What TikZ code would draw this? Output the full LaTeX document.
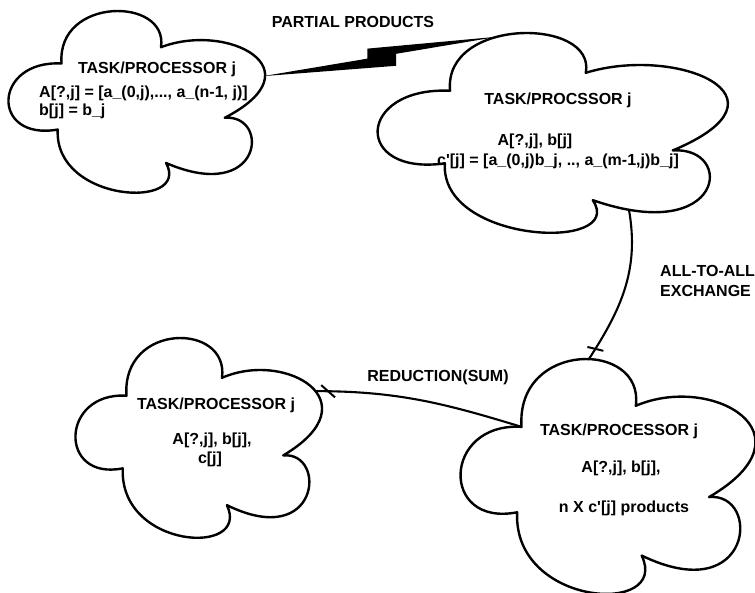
\documentclass[tikz,border=0pt]{standalone}
\usepackage{fontspec}
\setmainfont{Liberation Sans}
\usetikzlibrary{decorations.markings,calc}
\begin{document}
\begin{tikzpicture}[x=1pt,y=1pt,
  cloudline/.style={draw=black, fill=white, line width=2.4pt, line join=round},
  txt/.style={font=\fontsize{16}{19}\selectfont\bfseries, inner sep=0pt},
  link/.style={line width=2.1pt},
  tickdown/.style={postaction={decorate, decoration={markings,
    mark=at position -12pt with {\draw[line width=2pt] (2.6,-7.8) -- (-2.6,7.8);}}}},
  tickleft/.style={postaction={decorate, decoration={markings,
    mark=at position -13pt with {\draw[line width=2pt] (7,-6) -- (-7,6);}}}},
  % five-lobed cloud in a unit box (v grows downwards via a negative yscale)
  cloudy/.pic={
    \path[cloudline] (0.21,0.29)
      .. controls (0.19,-0.08) and (0.63,-0.08) .. (0.60,0.20)
      .. controls (0.86,0.06) and (1.22,0.32) .. (0.85,0.59)
      .. controls (1.03,0.57) and (1.0,1.07) .. (0.62,0.84)
      .. controls (0.72,1.10) and (0.18,1.06) .. (0.195,0.655)
      .. controls (-0.07,0.72) and (-0.06,0.27) .. (0.21,0.29) -- cycle;
    \coordinate (-notch) at (0.21,0.29);
    \coordinate (-north) at (0.35,0.018);
    \coordinate (-top) at (0.44,0.0);
    \coordinate (-east) at (1.0,0.36);
    \coordinate (-ne) at (0.98,0.267);
    \coordinate (-south) at (0.724,0.888);
  },
  ]
\useasboundingbox (0,0) rectangle (755,-593);

% the four task clouds
\pic[xscale=255, yscale=-181] (c1) at (8,-11) {cloudy};
\pic[xscale=348, yscale=-199] (c2) at (377,-33) {cloudy};
\pic[xscale=245, yscale=-199] (c3) at (75,-338) {cloudy};
\pic[xscale=293, yscale=-234] (c4) at (460,-359) {cloudy};

% lightning bolt carrying the partial products
\fill (c1-east) -- ($(c1-east)!0.443!(c2-north)$) -- ($(c1-east)!0.443!(c2-north)+(0,10)$)
  -- (c2-north) -- ($(c1-east)!0.565!(c2-north)$) -- ($(c1-east)!0.565!(c2-north)+(0,-12)$) -- cycle;

% exchange and reduction links
\draw[link, tickdown] (c2-south) to[out=-80, in=57] (c4-top);
\draw[link, tickleft] (c4-notch) to[out=163, in=0] (c3-ne);

% cloud texts
\node[txt] (t1) at (157,-69) {TASK/PROCESSOR j};
\node[txt, anchor=west] (t1a) at (39,-93) {A[?,j] = [a\_(0,j),..., a\_(n-1, j)]};
\node[txt, anchor=west] (t1b) at (39,-111) {b[j] = b\_j};

\node[txt] (t2) at (558,-100) {TASK/PROCSSOR j};
\node[txt] (t2a) at (535,-141) {A[?,j], b[j]};
\node[txt] (t2b) at (558,-161) {c\textquotesingle[j] = [a\_(0,j)b\_j, .., a\_(m-1,j)b\_j]};

\node[txt] (t3) at (216,-405) {TASK/PROCESSOR j};
\node[txt] (t3a) at (212,-440) {A[?,j], b[j],};
\node[txt] (t3b) at (210,-459) {c[j]};

\node[txt] (t4) at (619,-431) {TASK/PROCESSOR j};
\node[txt] (t4a) at (621,-468) {A[?,j], b[j],};
\node[txt] (t4b) at (624,-508) {n X c\textquotesingle[j] products};

% link labels
\node[txt] (lp) at (353,-22) {PARTIAL PRODUCTS};
\node[txt, anchor=west, align=left, font=\fontsize{16}{20}\selectfont\bfseries] (lx) at (660,-281) {ALL-TO-ALL\\EXCHANGE};
\node[txt] (lr) at (438,-377) {REDUCTION(SUM)};
\end{tikzpicture}
\end{document}
